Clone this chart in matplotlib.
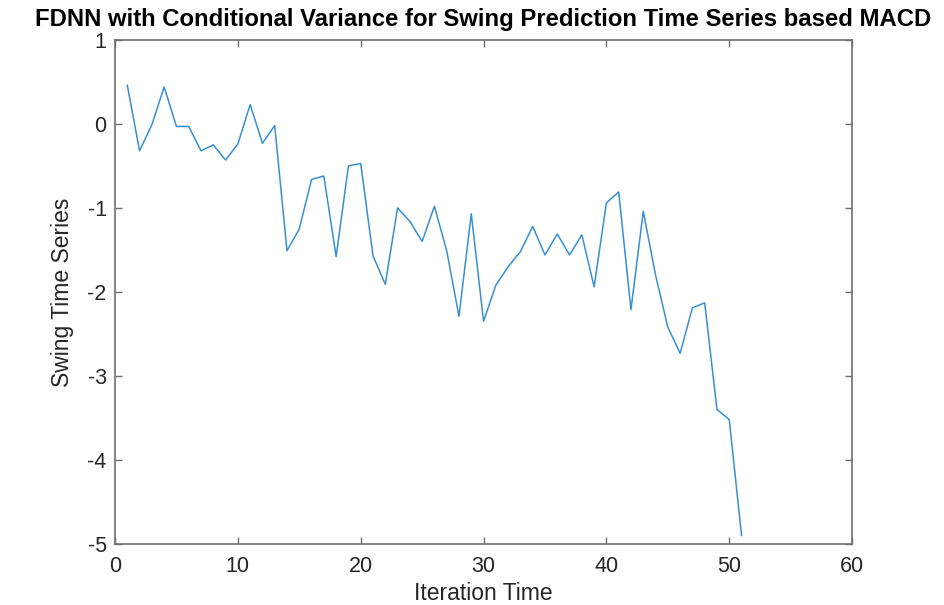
import matplotlib
matplotlib.use("Agg")
import matplotlib.pyplot as plt

# values
iteration = list(range(1, 52))
swing = [0.46, -0.32, -0.01, 0.44, -0.03, -0.03, -0.32, -0.25, -0.43, -0.24,
         0.23, -0.23, -0.02, -1.51, -1.25, -0.66, -0.62, -1.58, -0.50, -0.47,
         -1.57, -1.91, -1.00, -1.16, -1.40, -0.98, -1.51, -2.29, -1.07, -2.35,
         -1.92, -1.70, -1.52, -1.22, -1.56, -1.31, -1.56, -1.32, -1.94, -0.94,
         -0.81, -2.21, -1.04, -1.80, -2.42, -2.73, -2.19, -2.13, -3.40, -3.52,
         -4.90]
xticks = [0, 10, 20, 30, 40, 50, 60]
yticks = [-5, -4, -3, -2, -1, 0, 1]

plt.rcParams['font.family'] = ['Liberation Sans', 'DejaVu Sans']
plt.rcParams['axes.unicode_minus'] = False

fig = plt.figure(figsize=(9.45, 6.05), dpi=100)
ax = fig.add_axes([0.1217, 0.101, 0.78, 0.833])

ax.plot(iteration, swing, color='#3790d4', linewidth=1.1)

ax.set_xlim(0, 60)
ax.set_ylim(-5, 1)
ax.set_xticks(xticks)
ax.set_yticks(yticks)

spine_col = '#707070'
for s in ax.spines.values():
    s.set_color(spine_col)
    s.set_linewidth(1.2)
ax.tick_params(direction='in', length=5, width=1, colors=spine_col,
               labelcolor='#262626', labelsize=15.5, top=True, right=True)
ax.tick_params(axis='x', pad=9)
ax.tick_params(axis='y', pad=6)

ax.set_xlabel('Iteration Time', fontsize=16.5, color='#262626', labelpad=3)
ax.set_ylabel('Swing Time Series', fontsize=16.5, color='#262626', labelpad=10)
# reference clips the last letter; kept just inside the canvas here
ax.set_title('FDNN with Conditional Variance for Swing Prediction Time Series based MACD',
             fontsize=17.2, fontweight='bold', color='black', pad=10)

fig.savefig('out.png', dpi=100, facecolor='white')
